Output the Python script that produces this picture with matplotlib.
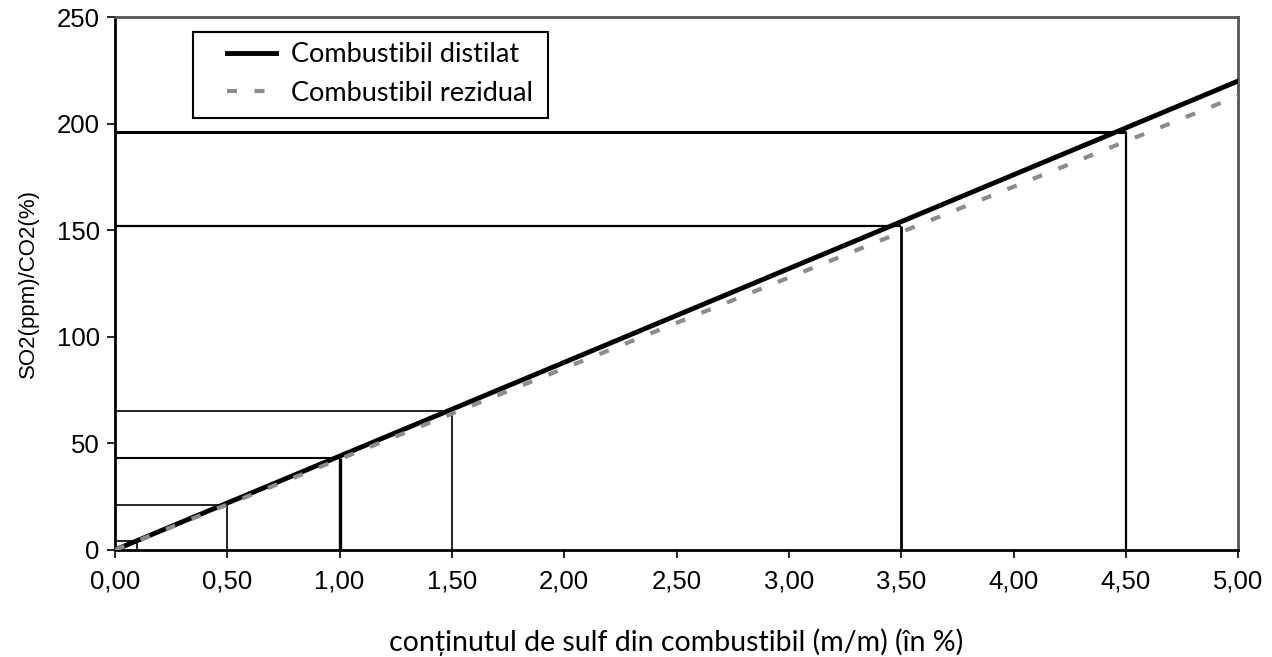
import matplotlib.pyplot as plt
from matplotlib.patches import Rectangle

# sulphur content (%) and SO2/CO2 ratio
x_line = [0.0, 5.0]
distilat = [0.0, 220.0]
rezidual = [0.0, 213.0]

# reference (read-off) lines
ref_x = [0.1, 0.5, 1.0, 1.5, 3.5, 4.5]
ref_y = [4, 21, 43, 65, 152, 196]
h_lw = [1.2, 1.2, 1.5, 1.2, 1.6, 2.2]
v_lw = [1.2, 1.2, 2.4, 1.2, 2.0, 1.6]

xticks = [0, 0.5, 1.0, 1.5, 2.0, 2.5, 3.0, 3.5, 4.0, 4.5, 5.0]
yticks = [0, 50, 100, 150, 200, 250]

fig = plt.figure(figsize=(12.72, 6.57), dpi=100)
ax = fig.add_axes([0.0904, 0.163, 0.883, 0.811])

for xv, yv, hl, vl in zip(ref_x, ref_y, h_lw, v_lw):
    ax.plot([0, xv], [yv, yv], color='black', lw=hl, solid_capstyle='butt', zorder=2)
    ax.plot([xv, xv], [0, yv], color='black', lw=vl, solid_capstyle='butt', zorder=2)

ax.plot(x_line, distilat, color='black', lw=3.5, label='Combustibil distilat', zorder=3)
ax.plot(x_line, rezidual, color='#8c8c8c', lw=3, ls=(0, (2.4, 4.2)),
        label='Combustibil rezidual', zorder=4)

ax.set_xlim(0, 5)
ax.set_ylim(0, 250)
ax.set_xticks(xticks)
ax.set_xticklabels([('%.2f' % v).replace('.', ',') for v in xticks],
                   family='Liberation Sans', fontsize=18.5)
ax.set_yticks(yticks)
ax.set_yticklabels([str(v) for v in yticks], family='Liberation Sans', fontsize=18.5)
ax.tick_params(direction='out', length=6, width=1.2, color='black', pad=5)
ax.tick_params(axis='x', pad=8)

for s in ['left', 'bottom']:
    ax.spines[s].set_linewidth(2)
    ax.spines[s].set_color('black')
for s in ['top', 'right']:
    ax.spines[s].set_linewidth(2)
    ax.spines[s].set_color('#555555')

ax.set_ylabel('SO2(ppm)/CO2(%)', family='Liberation Sans', fontsize=16, labelpad=13)
ax.set_xlabel('conținutul de sulf din combustibil (m/m) (în %)', family='Lato',
              fontsize=20.5, labelpad=25)

# legend box drawn separately so that the padding matches
ax.add_patch(Rectangle((0.0695, 0.8105), 0.316, 0.1615, transform=ax.transAxes,
                       fill=True, facecolor='white', edgecolor='black', lw=1.5, zorder=5))
leg = ax.legend(loc='upper left', bbox_to_anchor=(0.0997, 0.953), frameon=False,
                prop={'family': 'Lato', 'size': 19.5}, borderpad=0, borderaxespad=0,
                handlelength=1.8, labelspacing=0.5, handletextpad=0.55)
leg.set_zorder(6)

fig.savefig('out.png', dpi=100)
